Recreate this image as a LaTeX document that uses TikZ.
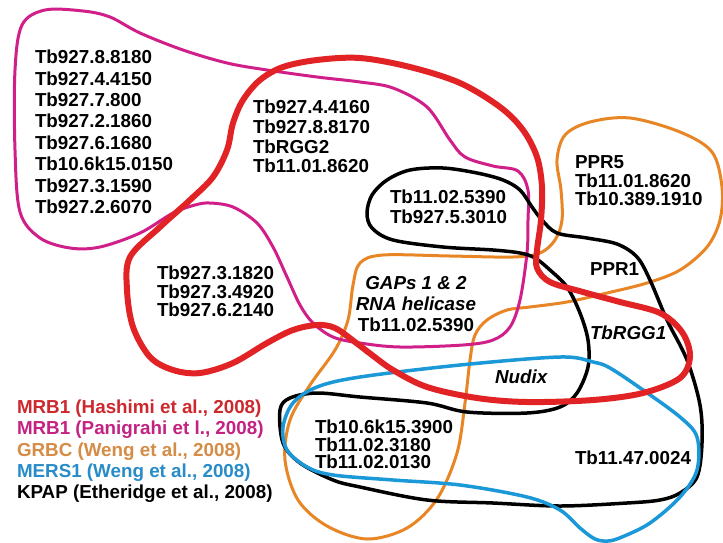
\documentclass[tikz,border=0pt]{standalone}
\usepackage{fontspec}
\setmainfont{Liberation Sans}
\definecolor{cred}{RGB}{226,35,38}
\definecolor{cmag}{RGB}{209,31,138}
\definecolor{corg}{RGB}{232,134,38}
\definecolor{cblu}{RGB}{27,152,215}
\definecolor{lred}{RGB}{205,40,45}
\definecolor{lmag}{RGB}{196,34,130}
\definecolor{lorg}{RGB}{213,140,70}
\definecolor{lblu}{RGB}{40,140,200}
\tikzset{
  setline/.style={line join=round, line cap=round},
  lbl/.style={inner sep=0pt, outer sep=0pt, align=left, anchor=north west, font=\bfseries\fontsize{18.8}{#1}\selectfont},
  lbl/.default=21.4,
  ilbl/.style={inner sep=0pt, outer sep=0pt, font=\bfseries\itshape\fontsize{18.8}{21}\selectfont},
}
\begin{document}
\begin{tikzpicture}[x=1pt,y=-1pt]
\useasboundingbox (0,0) rectangle (723,542);
\fill[white] (0,0) rectangle (723,542);
% orange GRBC
\draw[setline, corg, line width=3pt] plot[smooth cycle, tension=0.55] coordinates {
(383,255) (450,256) (513,257) (540,253) (555,240) (562,220) (561,190) (557,160) (565,135) (590,122) (630,118) (680,132) (712,152) (722,187) (720,220) (707,247) (680,270) (647,283) (607,293) (567,302) (530,307) (507,310) (487,320) (475,335) (470,360) (465,403) (457,453) (437,499) (407,528) (367,539) (327,526) (298,500) (285,460) (290,420) (310,385) (335,350) (348,320) (353,285) (360,263)};
% magenta MRB1 Panigrahi
\draw[setline, cmag, line width=3pt] plot[smooth cycle, tension=0.55] coordinates {
(45,10) (83,11) (110,17) (140,33) (183,50) (227,63) (267,70) (317,77) (360,82) (393,88) (427,107) (450,140) (465,157) (493,166) (518,171) (528,190) (528,220) (527,253) (520,300) (510,327) (493,340) (463,345) (400,347) (360,343) (333,337) (313,323) (300,305) (287,277) (273,247) (257,223) (233,207) (210,203) (195,205) (173,213) (140,233) (100,247) (70,248) (40,238) (20,212) (15,150) (15,70) (22,25)};
% black KPAP
\draw[setline, black, line width=3.5pt] plot[smooth cycle, tension=0.55] coordinates {
(367,213) (372,195) (387,180) (410,170) (443,168) (477,173) (503,180) (520,190) (532,207) (542,220) (557,233) (587,238) (617,244) (637,257) (650,280) (667,320) (687,360) (700,405) (702,443) (697,477) (680,493) (660,500) (627,503) (560,506) (493,503) (427,500) (360,487) (333,480) (300,463) (283,443) (280,410) (290,398) (317,393) (360,397) (427,403) (467,412) (527,413) (560,407) (577,393) (588,367) (588,340) (580,313) (567,287) (550,270) (535,258) (520,253) (493,250) (443,247) (393,240) (372,228)};
% blue MERS1
\draw[setline, cblu, line width=3.5pt] plot[smooth cycle, tension=0.55] coordinates {
(360,377) (317,387) (293,403) (283,427) (287,450) (307,467) (333,475) (393,480) (460,485) (527,497) (560,510) (580,528) (595,539) (608,541) (622,537) (650,523) (680,497) (697,470) (697,437) (680,417) (643,390) (610,368) (593,362) (560,357) (460,365)};
% red MRB1 Hashimi
\draw[setline, cred, line width=6pt] plot[smooth cycle, tension=0.55] coordinates {
(360,58) (410,67) (460,83) (500,107) (523,130) (537,157) (542,187) (541,220) (537,250) (537,268) (550,282) (583,292) (620,302) (660,313) (682,332) (690,356) (680,378) (643,393) (593,400) (527,402) (477,398) (427,387) (393,370) (372,355) (355,342) (335,328) (317,325) (293,330) (267,343) (233,363) (200,373) (173,370) (150,357) (133,327) (127,290) (130,257) (160,227) (190,200) (213,177) (227,150) (233,123) (243,100) (260,80) (283,67) (317,60)};
% labels
\node[lbl=21.4] (mlist) at (35,50) {Tb927.8.8180\\Tb927.4.4150\\Tb927.7.800\\Tb927.2.1860\\Tb927.6.1680\\Tb10.6k15.0150\\Tb927.3.1590\\Tb927.2.6070};
\node[lbl=19.7] (rlist) at (253,100) {Tb927.4.4160\\Tb927.8.8170\\TbRGG2\\Tb11.01.8620};
\node[lbl=20] (klist) at (390,190) {Tb11.02.5390\\Tb927.5.3010};
\node[lbl=18.5] (plist) at (575,156) {PPR5\\Tb11.01.8620\\Tb10.389.1910};
\node[lbl=18.5] (rmlist) at (157,266) {Tb927.3.1820\\Tb927.3.4920\\Tb927.6.2140};
\node[lbl=17.5] (blist) at (315,420) {Tb10.6k15.3900\\Tb11.02.3180\\Tb11.02.0130};
\node[lbl] (ppr1) at (590,263) {PPR1};
\node[lbl] (t47) at (575,451) {Tb11.47.0024};
\node[ilbl, anchor=north] (gaps) at (416,276) {GAPs 1 \& 2};
\node[ilbl, anchor=north] (rnah) at (416,297) {RNA helicase};
\node[lbl, anchor=north] (g5390) at (416,318) {Tb11.02.5390};
\node[ilbl, anchor=west] (rgg1) at (590,333) {TbRGG1};
\node[ilbl, anchor=west] (nudix) at (495,377) {Nudix};
% legend
\node[lbl, lred] (leg1) at (17,400) {MRB1 (Hashimi et al., 2008)};
\node[lbl, lmag] (leg2) at (17,421.3) {MRB1 (Panigrahi et l., 2008)};
\node[lbl, lorg] (leg3) at (17,442.6) {GRBC (Weng et al., 2008)};
\node[lbl, lblu] (leg4) at (17,463.9) {MERS1 (Weng et al., 2008)};
\node[lbl, black] (leg5) at (17,485.2) {KPAP (Etheridge et al., 2008)};
\end{tikzpicture}
\end{document}
